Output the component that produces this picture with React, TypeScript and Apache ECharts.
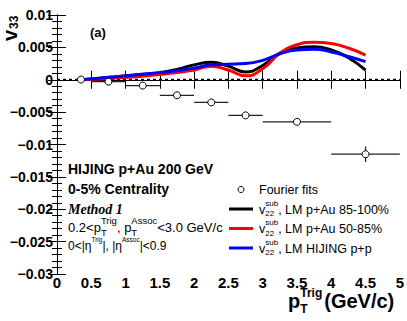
import React, { useEffect, useRef } from "react";
import * as echarts from "echarts";

// ---- data ----
const curveX = [0.35, 0.6, 0.9, 1.2, 1.5, 1.75, 2.0, 2.25, 2.5, 2.75, 3.0, 3.25, 3.5, 3.75, 4.0, 4.25, 4.5];
const black85100 = [0, 0.0002, 0.0005, 0.0008, 0.0011, 0.0016, 0.0023, 0.0027, 0.0021, 0.0012, 0.0022, 0.0041, 0.0049, 0.0051, 0.0046, 0.0034, 0.0015];
const red5085 = [0, 0.00012, 0.0003, 0.0005, 0.0008, 0.0011, 0.0015, 0.0021, 0.0015, 0.0006, 0.0017, 0.0041, 0.0054, 0.0058, 0.0056, 0.0049, 0.0038];
const bluePP = [0, 0.00025, 0.0005, 0.0008, 0.0011, 0.0014, 0.0018, 0.0023, 0.0024, 0.0025, 0.003, 0.004, 0.0046, 0.0047, 0.0043, 0.0036, 0.0028];

const fourierX = [0.35, 0.75, 1.25, 1.75, 2.25, 2.75, 3.5, 4.5];
const fourierY = [0.00003, -0.0003, -0.0009, -0.0024, -0.0035, -0.0055, -0.0065, -0.0115];
const fourierXLo = [0.35, 0.5, 1.0, 1.5, 2.0, 2.5, 3.0, 4.0];
const fourierXHi = [0.35, 1.0, 1.5, 2.0, 2.5, 3.0, 4.0, 5.0];
const fourierYErr = [0, 0, 0, 0, 0, 0, 0, 0.0012];

const xTicks = { min: 0, max: 5, interval: 0.5 };
const yTicks = { min: -0.03, max: 0.01, interval: 0.005 };

const SANS = "Liberation Sans, Arial, Helvetica, sans-serif";
const SERIF = "Liberation Serif, Times New Roman, serif";

let ctx: CanvasRenderingContext2D | null = null;
function measure(t: string, size: number, bold = false, italic = false, family = SANS) {
  if (!ctx) ctx = document.createElement("canvas").getContext("2d");
  if (!ctx) return t.length * size * 0.55;
  ctx.font = `${italic ? "italic " : ""}${bold ? "bold " : ""}${size}px ${family}`;
  return ctx.measureText(t).width;
}

type Part = {
  t?: string; sup?: string; sub?: string; gap?: number;
  size?: number; small?: number; bold?: boolean; italic?: boolean; family?: string;
  supDy?: number; subDy?: number;
};

function textRow(x: number, y: number, parts: Part[]) {
  const els: any[] = [];
  let cx = x;
  const mk = (t: string, px: number, py: number, size: number, p: Part) => ({
    type: "text",
    x: px,
    y: py,
    z: 100,
    style: {
      text: t,
      fontSize: size,
      fontWeight: p.bold ? "bold" : "normal",
      fontStyle: p.italic ? "italic" : "normal",
      fontFamily: p.family || SANS,
      fill: "#000",
      align: "left",
      verticalAlign: "middle",
    },
  });
  for (const p of parts) {
    const size = p.size || 12;
    if (p.gap !== undefined) {
      cx += p.gap;
    } else if (p.t !== undefined) {
      els.push(mk(p.t, cx, y, size, p));
      cx += measure(p.t, size, p.bold, p.italic, p.family);
    } else {
      const s = p.small || size * 0.62;
      let w = 0;
      if (p.sup) {
        els.push(mk(p.sup, cx, y + (p.supDy ?? -size * 0.5), s, p));
        w = Math.max(w, measure(p.sup, s, p.bold, p.italic, p.family));
      }
      if (p.sub) {
        els.push(mk(p.sub, cx, y + (p.subDy ?? size * 0.32), s, p));
        w = Math.max(w, measure(p.sub, s, p.bold, p.italic, p.family));
      }
      cx += w;
    }
  }
  return els;
}

export default function App() {
  const ref = useRef<HTMLDivElement>(null);
  useEffect(() => {
    if (!ref.current) return;
    const chart = echarts.init(ref.current, undefined, { renderer: "svg" });

    const axisLine = { show: true, lineStyle: { color: "#000", width: 1 } };
    const axisTick = { show: true, inside: true, length: 9, lineStyle: { color: "#000", width: 1 } };
    const yFmt = (v: number) => {
      const r = Math.round(v * 1000) / 1000;
      if (r === 0) return "0";
      return String(r).replace("-", "\u2212");
    };

    const graphic: any[] = [];
    // y-axis title v_33 (rotated)
    graphic.push({
      type: "text", x: 9.5, y: 41, rotation: Math.PI / 2, z: 100,
      style: { text: "v", fontSize: 20, fontWeight: "bold", fontFamily: SANS, fill: "#000", align: "left", verticalAlign: "middle" },
    });
    graphic.push({
      type: "text", x: 14, y: 29, rotation: Math.PI / 2, z: 100,
      style: { text: "33", fontSize: 12, fontWeight: "bold", fontFamily: SANS, fill: "#000", align: "left", verticalAlign: "middle" },
    });
    // x-axis title
    graphic.push(
      ...textRow(288, 301, [
        { t: "p", size: 20, bold: true },
        { sup: "Trig", sub: "T", size: 20, small: 12, bold: true, supDy: -8, subDy: 8 },
        { gap: 2 },
        { t: "(GeV/c)", size: 20, bold: true },
      ])
    );
    // (a)
    graphic.push(...textRow(90, 32, [{ t: "(a)", size: 13, bold: true }]));
    // left annotations
    graphic.push(...textRow(68, 169, [{ t: "HIJING p+Au 200 GeV", size: 14, bold: true }]));
    graphic.push(...textRow(68, 189, [{ t: "0-5% Centrality", size: 14, bold: true }]));
    graphic.push(...textRow(68, 209, [{ t: "Method 1", size: 14, bold: true, italic: true, family: SERIF }]));
    graphic.push(
      ...textRow(68, 227, [
        { t: "0.2<p", size: 13 },
        { sup: "Trig", sub: "T", size: 13, small: 9.5, supDy: -6.5, subDy: 5 },
        { t: ", p", size: 13 },
        { sup: "Assoc", sub: "T", size: 13, small: 9.5, supDy: -6.5, subDy: 5 },
        { t: "<3.0 GeV/c", size: 13 },
      ])
    );
    graphic.push(
      ...textRow(68, 245.5, [
        { t: "0<|\u03b7", size: 12 },
        { sup: "Trig", size: 12, small: 6.5, supDy: -6 },
        { t: "|, |\u03b7", size: 12 },
        { sup: "Assoc", size: 12, small: 6.5, supDy: -6 },
        { t: "|<0.9", size: 12 },
      ])
    );
    // legend
    graphic.push({
      type: "circle", z: 100, shape: { cx: 241, cy: 189.5, r: 3 },
      style: { fill: "#fff", stroke: "#000", lineWidth: 1 },
    });
    graphic.push(...textRow(259, 190, [{ t: "Fourier fits", size: 12.5 }]));
    const legendRows = [
      { color: "#000", y: 209, label: ", LM p+Au 85-100%" },
      { color: "#ff0000", y: 228.5, label: ", LM p+Au 50-85%" },
      { color: "#0000ff", y: 248, label: ", LM HIJING p+p" },
    ];
    for (const r of legendRows) {
      graphic.push({
        type: "line", z: 100, shape: { x1: 229, y1: r.y, x2: 253, y2: r.y },
        style: { stroke: r.color, lineWidth: 3 },
      });
      graphic.push(
        ...textRow(259, r.y + 0.5, [
          { t: "v", size: 12.5 },
          { sup: "sub", sub: "22", size: 12.5, small: 8, supDy: -6.5, subDy: 4 },
          { t: r.label, size: 12.5 },
        ])
      );
    }

    const lineSeries = (name: string, color: string, vals: number[]) => ({
      name,
      type: "line",
      data: curveX.map((x, i) => [x, vals[i]]),
      smooth: 0.5,
      showSymbol: false,
      symbol: "none",
      lineStyle: { color, width: 3 },
      z: 5,
    });

    chart.setOption({
      animation: false,
      backgroundColor: "#fff",
      grid: { left: 57, right: 7, top: 15, bottom: 47, containLabel: false },
      xAxis: [
        {
          type: "value", position: "bottom", ...xTicks,
          axisLine, axisTick,
          splitLine: { show: false },
          axisLabel: { fontSize: 15, fontWeight: "bold", fontFamily: SANS, color: "#000", margin: 1 },
        },
        {
          type: "value", position: "top", ...xTicks,
          axisLine, axisTick,
          splitLine: { show: false },
          axisLabel: { show: false },
        },
      ],
      yAxis: [
        {
          type: "value", position: "left", ...yTicks,
          axisLine, axisTick,
          minorTick: { show: true, splitNumber: 5, length: 5, lineStyle: { color: "#000", width: 1 } },
          splitLine: { show: false },
          axisLabel: { fontSize: 14, fontWeight: "bold", fontFamily: SANS, color: "#000", margin: 4, formatter: yFmt },
        },
        {
          type: "value", position: "right", ...yTicks,
          axisLine, axisTick,
          minorTick: { show: true, splitNumber: 5, length: 5, lineStyle: { color: "#000", width: 1 } },
          splitLine: { show: false },
          axisLabel: { show: false },
        },
      ],
      series: [
        {
          name: "zero",
          type: "line",
          data: [[0, 0], [5, 0]],
          showSymbol: false,
          symbol: "none",
          lineStyle: { color: "#000", width: 2, type: [3, 3] },
          z: 3,
        },
        lineSeries("85-100%", "#000", black85100),
        lineSeries("50-85%", "#ff0000", red5085),
        lineSeries("HIJING p+p", "#0000ff", bluePP),
        {
          name: "Fourier fits",
          type: "custom",
          z: 10,
          data: fourierX.map((x, i) => [x, fourierY[i], fourierXLo[i], fourierXHi[i], fourierYErr[i]]),
          renderItem: (_params: any, api: any) => {
            const x = api.value(0), y = api.value(1), lo = api.value(2), hi = api.value(3), e = api.value(4);
            const c = api.coord([x, y]);
            const pl = api.coord([lo, y]);
            const ph = api.coord([hi, y]);
            const children: any[] = [];
            if (hi > lo) {
              children.push({ type: "line", shape: { x1: pl[0], y1: pl[1], x2: ph[0], y2: ph[1] }, style: { stroke: "#222", lineWidth: 1.3 } });
            }
            if (e > 0) {
              const a = api.coord([x, y + e]);
              const b = api.coord([x, y - e]);
              children.push({ type: "line", shape: { x1: a[0], y1: a[1], x2: b[0], y2: b[1] }, style: { stroke: "#222", lineWidth: 1.3 } });
            }
            children.push({ type: "circle", shape: { cx: c[0], cy: c[1], r: 3.5 }, style: { fill: "#fff", stroke: "#000", lineWidth: 1 } });
            return { type: "group", children };
          },
        },
      ],
      graphic,
    });
    return () => chart.dispose();
  }, []);
  return <div ref={ref} style={{ position: "fixed", left: 0, top: 0, width: 407, height: 321 }} />;
}
